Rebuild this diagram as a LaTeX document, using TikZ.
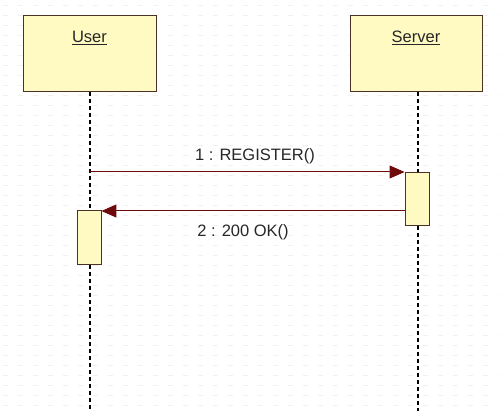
\documentclass[tikz,border=0pt]{standalone}
\usepackage{fontspec}
\setmainfont{Liberation Sans}
\usetikzlibrary{arrows.meta}
\definecolor{boxfill}{HTML}{FFFAC2}
\definecolor{boxline}{HTML}{4A3326}
\definecolor{msgred}{HTML}{6E0A0A}
\begin{document}
\begin{tikzpicture}[x=1pt,y=-1pt,
  lifebox/.style={draw=boxline,fill=boxfill,line width=1pt},
  actbox/.style={draw=boxline,fill=boxfill,line width=0.9pt},
  lifeline/.style={black,line width=1.3pt,dash pattern=on 4pt off 3pt},
  msg/.style={msgred,line width=1pt,-{Triangle[length=15pt,width=13pt]}},
  lbl/.style={font=\fontsize{16.5}{19}\selectfont,text=black!85}]
  \useasboundingbox (0,0) rectangle (499,411);
  % faint diagram grid
  \foreach \gy in {5,15,...,405}{
    \foreach \gx in {3,18,...,498}{
      \fill[gray!12] (\gx,\gy) rectangle ++(5,1.5);
    }
  }
  % lifeline heads
  \draw[lifebox] (23,16) rectangle (156,92);
  \node[lbl] (user) at (89.5,38) {\underline{User}};
  \draw[lifebox] (350,16) rectangle (482,92);
  \node[lbl] (server) at (416,38) {\underline{Server}};
  \coordinate (utop) at (90,92);
  \coordinate (stop) at (418,92);
  \coordinate (ubot) at (90,411);
  \coordinate (sbot) at (418,411);
  % activation bars
  \node[actbox,minimum width=24pt,minimum height=53pt,inner sep=0pt,anchor=north] (sact) at (417,172) {};
  \node[actbox,minimum width=24pt,minimum height=54pt,inner sep=0pt,anchor=north] (uact) at (89,210) {};
  % lifelines
  \draw[lifeline] (utop) -- (uact.north -| utop);
  \draw[lifeline] (uact.south -| utop) -- (ubot);
  \draw[lifeline] (stop) -- (sact.north -| stop);
  \draw[lifeline] (sact.south -| stop) -- (sbot);
  % messages
  \coordinate (m1s) at (90,172);
  \draw[msg] (m1s) -- (m1s -| sact.west);
  \node[lbl] (l1) at (255,156) {1 : REGISTER()};
  \coordinate (m2s) at (sact.west |- 0,211);
  \draw[msg] (m2s) -- (m2s -| uact.east);
  \node[lbl] (l2) at (243,232) {2 : 200 OK()};
\end{tikzpicture}
\end{document}
